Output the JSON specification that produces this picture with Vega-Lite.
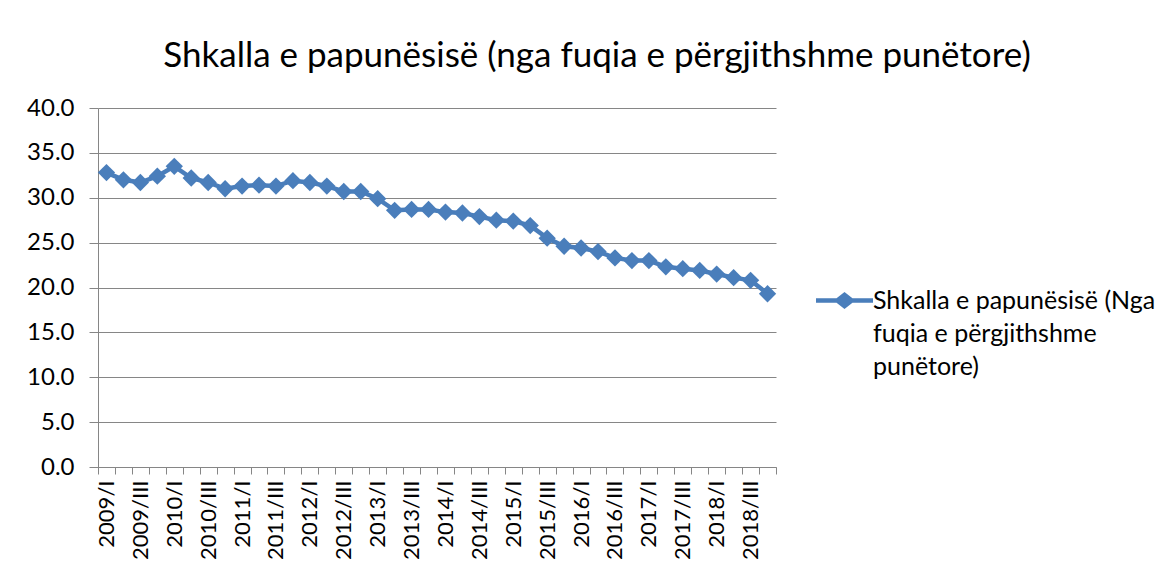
{
  "$schema": "https://vega.github.io/schema/vega-lite/v6.json",
  "width": 678,
  "height": 359,
  "autosize": {"type": "none"},
  "padding": {"left": 98, "top": 108, "right": 394, "bottom": 114},
  "background": "white",
  "config": {
    "font": "Lato",
    "view": {"stroke": null}
  },
  "title": {
    "text": "Shkalla e papunësisë (nga fuqia e përgjithshme punëtore)",
    "font": "Lato",
    "fontSize": 35,
    "fontWeight": "normal",
    "color": "#000000",
    "anchor": "middle",
    "frame": "group",
    "dx": 160,
    "dy": 36,
    "baseline": "alphabetic",
    "offset": 30
  },
  "data": {
    "values": [
      {"q": "2009/I", "s": "A", "v": 32.8},
      {"q": "2009/II", "s": "A", "v": 32.0},
      {"q": "2009/III", "s": "A", "v": 31.7},
      {"q": "2009/IV", "s": "A", "v": 32.4},
      {"q": "2010/I", "s": "A", "v": 33.5},
      {"q": "2010/II", "s": "A", "v": 32.2},
      {"q": "2010/III", "s": "A", "v": 31.7},
      {"q": "2010/IV", "s": "A", "v": 31.0},
      {"q": "2011/I", "s": "A", "v": 31.3},
      {"q": "2011/II", "s": "A", "v": 31.4},
      {"q": "2011/III", "s": "A", "v": 31.3},
      {"q": "2011/IV", "s": "A", "v": 31.9},
      {"q": "2012/I", "s": "A", "v": 31.7},
      {"q": "2012/II", "s": "A", "v": 31.3},
      {"q": "2012/III", "s": "A", "v": 30.7},
      {"q": "2012/IV", "s": "A", "v": 30.7},
      {"q": "2013/I", "s": "A", "v": 29.9},
      {"q": "2013/II", "s": "A", "v": 28.6},
      {"q": "2013/III", "s": "A", "v": 28.7},
      {"q": "2013/IV", "s": "A", "v": 28.7},
      {"q": "2014/I", "s": "A", "v": 28.4},
      {"q": "2014/II", "s": "A", "v": 28.3},
      {"q": "2014/III", "s": "A", "v": 27.9},
      {"q": "2014/IV", "s": "A", "v": 27.5},
      {"q": "2015/I", "s": "A", "v": 27.4},
      {"q": "2015/II", "s": "A", "v": 26.9},
      {"q": "2015/III", "s": "A", "v": 25.5},
      {"q": "2015/IV", "s": "A", "v": 24.6},
      {"q": "2016/I", "s": "A", "v": 24.4},
      {"q": "2016/II", "s": "A", "v": 24.0},
      {"q": "2016/III", "s": "A", "v": 23.3},
      {"q": "2016/IV", "s": "A", "v": 23.0},
      {"q": "2017/I", "s": "A", "v": 23.0},
      {"q": "2017/II", "s": "A", "v": 22.3},
      {"q": "2017/III", "s": "A", "v": 22.1},
      {"q": "2017/IV", "s": "A", "v": 21.9},
      {"q": "2018/I", "s": "A", "v": 21.5},
      {"q": "2018/II", "s": "A", "v": 21.1},
      {"q": "2018/III", "s": "A", "v": 20.8},
      {"q": "2018/IV", "s": "A", "v": 19.3}
    ]
  },
  "encoding": {
    "x": {
      "field": "q",
      "type": "ordinal",
      "sort": null,
      "scale": {"paddingInner": 0, "paddingOuter": 0},
      "axis": {
        "title": null,
        "labelAngle": -90,
        "labelFont": "Lato",
        "labelFontSize": 22,
        "labelColor": "#000000",
        "labelPadding": 6,
        "labelExpr": "(slice(datum.label, 4) == '/I' || slice(datum.label, 4) == '/III') ? datum.label : ''",
        "tickBand": "extent",
        "tickSize": 7,
        "tickColor": "#868686",
        "domainColor": "#868686",
        "labelOverlap": false,
        "labelBound": false
      }
    },
    "y": {
      "field": "v",
      "type": "quantitative",
      "scale": {"domain": [0, 40], "nice": false, "zero": true},
      "axis": {
        "title": null,
        "values": [0, 5, 10, 15, 20, 25, 30, 35, 40],
        "format": ".1f",
        "labelFont": "Lato",
        "labelFontSize": 24,
        "labelColor": "#000000",
        "labelPadding": 15,
        "tickSize": 9,
        "tickColor": "#868686",
        "domainColor": "#868686",
        "gridColor": "#868686",
        "grid": true
      }
    }
  },
  "layer": [
    {
      "mark": {"type": "line", "color": "#4A7EBB", "strokeWidth": 4.5}
    },
    {
      "mark": {"type": "point", "shape": "diamond", "filled": true, "opacity": 1, "size": 300},
      "encoding": {
        "color": {
          "field": "s",
          "type": "nominal",
          "scale": {"range": ["#4A7EBB"]},
          "legend": {
            "orient": "none",
            "legendX": 718,
            "legendY": 164,
            "title": null,
            "padding": 0,
            "symbolType": "M-1,-0.08L-0.28,-0.08L0,-0.3L0.28,-0.08L1,-0.08L1,0.08L0.28,0.08L0,0.3L-0.28,0.08L-1,0.08Z",
            "symbolSize": 3249,
            "symbolStrokeWidth": 0,
            "symbolOpacity": 1,
            "labelFont": "Lato",
            "labelFontSize": 25,
            "labelColor": "#000000",
            "labelOffset": 0,
            "labelLimit": 400,
            "labelExpr": "['Shkalla e papunësisë (Nga', 'fuqia e përgjithshme', 'punëtore)']",
            "encode": {
              "labels": {"update": {"lineHeight": {"value": 33}}}
            }
          }
        }
      }
    }
  ]
}
